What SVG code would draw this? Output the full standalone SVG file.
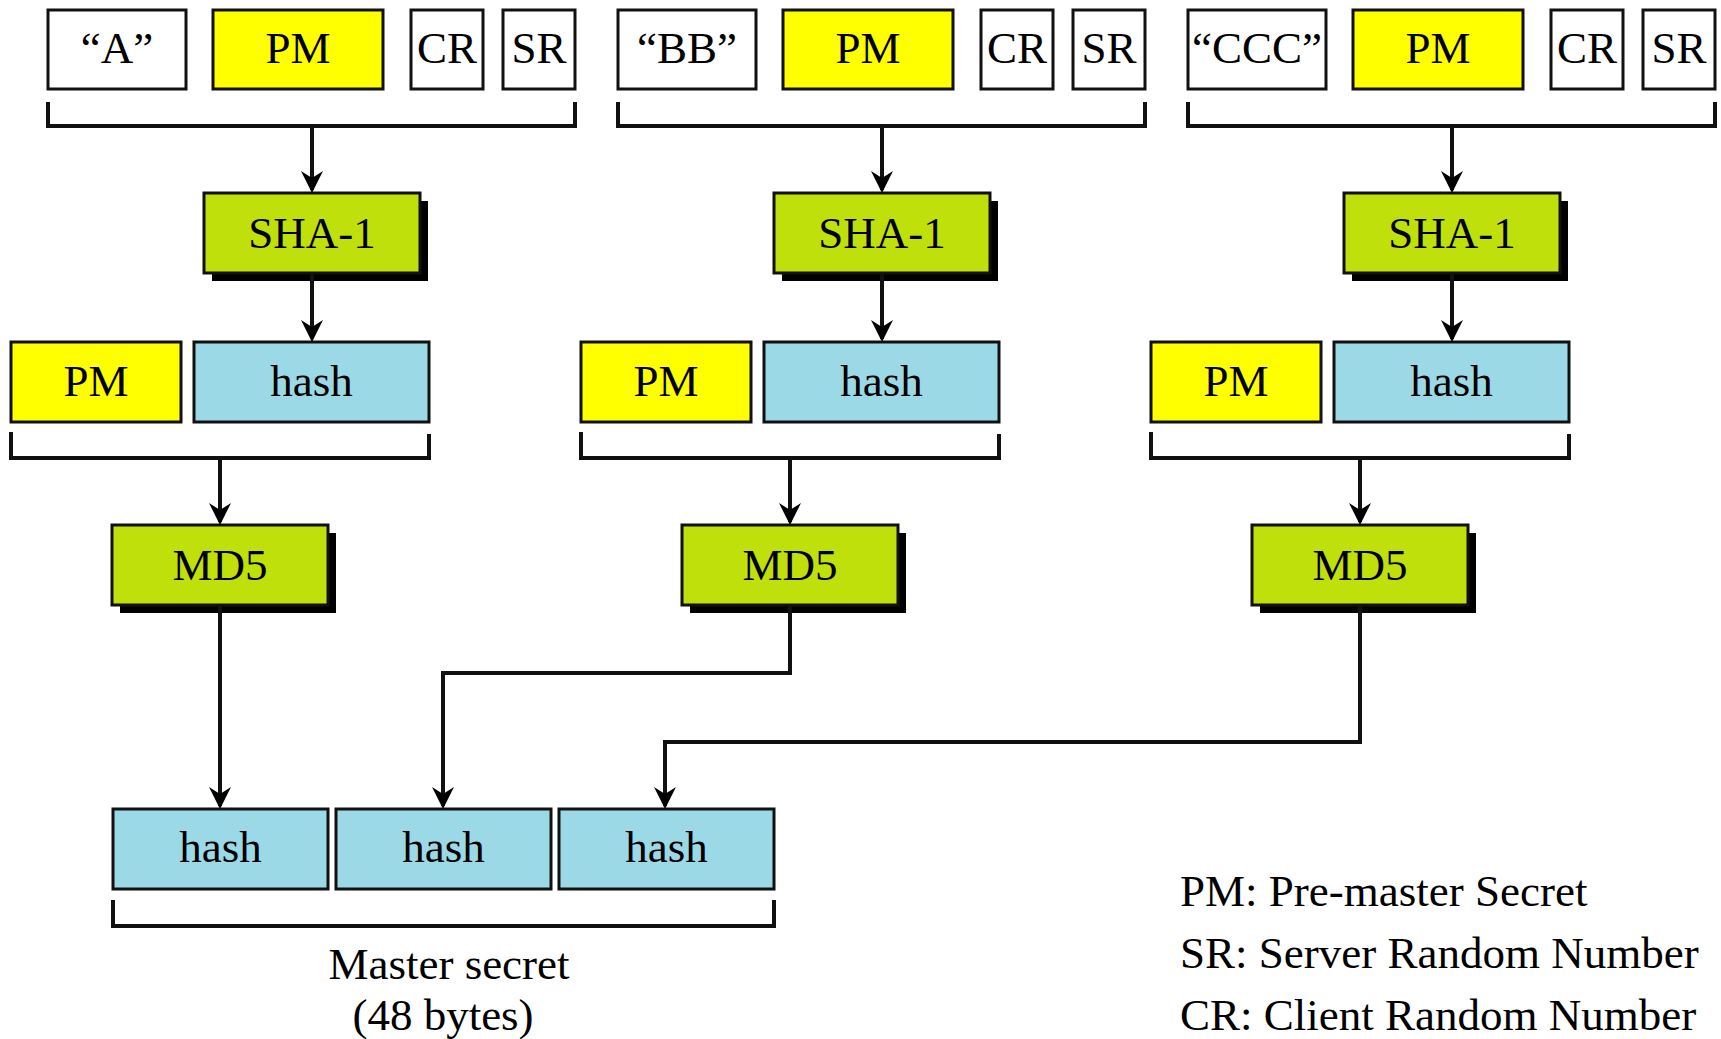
<svg xmlns="http://www.w3.org/2000/svg" width="1721" height="1039" viewBox="0 0 1721 1039">
<defs>
<style>
.t{font-family:"Liberation Serif","Times New Roman",serif;font-size:45px;fill:#000;text-anchor:middle}
.lg{font-family:"Liberation Serif","Times New Roman",serif;font-size:45px;fill:#000}
.w{fill:#fff;stroke:#111;stroke-width:3}
.y{fill:#ffff00;stroke:#111;stroke-width:3}
.g{fill:#bfe00b;stroke:#111;stroke-width:3}
.b{fill:#9cd9e7;stroke:#111;stroke-width:3}
.sh{fill:#000}
.br{fill:none;stroke:#111;stroke-width:4}
.c{fill:none;stroke:#111;stroke-width:4}
</style>
<marker id="ah" markerUnits="userSpaceOnUse" markerWidth="26" markerHeight="26" viewBox="-24 -13 26 26" refX="-3" refY="0" orient="auto">
<path d="M0,0 L-22,-11 L-15,0 L-22,11 Z" fill="#000"/>
</marker>
</defs>

<!-- Group 1 -->
<g id="g1-in-a"><rect class="w" x="48" y="10" width="138" height="79"/><text class="t" x="117" y="63">“A”</text></g>
<g id="g1-in-pm"><rect class="y" x="213" y="10" width="170" height="79"/><text class="t" x="298" y="63">PM</text></g>
<g id="g1-in-cr"><rect class="w" x="411" y="10" width="72" height="79"/><text class="t" x="447" y="63">CR</text></g>
<g id="g1-in-sr"><rect class="w" x="503" y="10" width="72" height="79"/><text class="t" x="539" y="63">SR</text></g>
<g id="g1-sha"><rect class="sh" x="212" y="201" width="216" height="80"/><rect class="g" x="204" y="193" width="216" height="80"/><text class="t" x="312" y="248">SHA-1</text></g>
<g id="g1-pm"><rect class="y" x="11" y="342" width="170" height="80"/><text class="t" x="96" y="396">PM</text></g>
<g id="g1-hash"><rect class="b" x="194" y="342" width="235" height="80"/><text class="t" x="311.5" y="396">hash</text></g>
<g id="g1-md5"><rect class="sh" x="120" y="533" width="216" height="80"/><rect class="g" x="112" y="525" width="216" height="80"/><text class="t" x="220" y="580">MD5</text></g>

<!-- Group 2 -->
<g id="g2-in-bb"><rect class="w" x="618" y="10" width="138" height="79"/><text class="t" x="687" y="63">“BB”</text></g>
<g id="g2-in-pm"><rect class="y" x="783" y="10" width="170" height="79"/><text class="t" x="868" y="63">PM</text></g>
<g id="g2-in-cr"><rect class="w" x="981" y="10" width="72" height="79"/><text class="t" x="1017" y="63">CR</text></g>
<g id="g2-in-sr"><rect class="w" x="1073" y="10" width="72" height="79"/><text class="t" x="1109" y="63">SR</text></g>
<g id="g2-sha"><rect class="sh" x="782" y="201" width="216" height="80"/><rect class="g" x="774" y="193" width="216" height="80"/><text class="t" x="882" y="248">SHA-1</text></g>
<g id="g2-pm"><rect class="y" x="581" y="342" width="170" height="80"/><text class="t" x="666" y="396">PM</text></g>
<g id="g2-hash"><rect class="b" x="764" y="342" width="235" height="80"/><text class="t" x="881.5" y="396">hash</text></g>
<g id="g2-md5"><rect class="sh" x="690" y="533" width="216" height="80"/><rect class="g" x="682" y="525" width="216" height="80"/><text class="t" x="790" y="580">MD5</text></g>

<!-- Group 3 -->
<g id="g3-in-ccc"><rect class="w" x="1188" y="10" width="138" height="79"/><text class="t" x="1257" y="63">“CCC”</text></g>
<g id="g3-in-pm"><rect class="y" x="1353" y="10" width="170" height="79"/><text class="t" x="1438" y="63">PM</text></g>
<g id="g3-in-cr"><rect class="w" x="1551" y="10" width="72" height="79"/><text class="t" x="1587" y="63">CR</text></g>
<g id="g3-in-sr"><rect class="w" x="1643" y="10" width="72" height="79"/><text class="t" x="1679" y="63">SR</text></g>
<g id="g3-sha"><rect class="sh" x="1352" y="201" width="216" height="80"/><rect class="g" x="1344" y="193" width="216" height="80"/><text class="t" x="1452" y="248">SHA-1</text></g>
<g id="g3-pm"><rect class="y" x="1151" y="342" width="170" height="80"/><text class="t" x="1236" y="396">PM</text></g>
<g id="g3-hash"><rect class="b" x="1334" y="342" width="235" height="80"/><text class="t" x="1451.5" y="396">hash</text></g>
<g id="g3-md5"><rect class="sh" x="1260" y="533" width="216" height="80"/><rect class="g" x="1252" y="525" width="216" height="80"/><text class="t" x="1360" y="580">MD5</text></g>

<!-- Master secret -->
<g id="ms-hash1"><rect class="b" x="113" y="809" width="215" height="80"/><text class="t" x="220.5" y="862">hash</text></g>
<g id="ms-hash2"><rect class="b" x="336" y="809" width="215" height="80"/><text class="t" x="443.5" y="862">hash</text></g>
<g id="ms-hash3"><rect class="b" x="559" y="809" width="215" height="80"/><text class="t" x="666.5" y="862">hash</text></g>
<g id="ms-label"><text class="t" x="449" y="979">Master secret</text><text class="t" x="443" y="1030">(48 bytes)</text></g>

<!-- Legend -->
<g id="legend">
<text class="lg" x="1180" y="906">PM: Pre-master Secret</text>
<text class="lg" x="1180" y="968">SR: Server Random Number</text>
<text class="lg" x="1180" y="1030">CR: Client Random Number</text>
</g>

<!-- Brackets and connectors -->
<g id="connectors">
<path class="br" d="M48,102 V126 H575 V102"/>
<path class="br" d="M618,102 V126 H1145 V102"/>
<path class="br" d="M1188,102 V126 H1715 V102"/>
<path class="br" d="M11,432 V458 H429 V434"/>
<path class="br" d="M581,432 V458 H999 V434"/>
<path class="br" d="M1151,432 V458 H1569 V434"/>
<path class="br" d="M113,900 V926 H774 V900"/>

<path class="c" d="M312,126 V190" marker-end="url(#ah)"/>
<path class="c" d="M882,126 V190" marker-end="url(#ah)"/>
<path class="c" d="M1452,126 V190" marker-end="url(#ah)"/>
<path class="c" d="M312,273 V339" marker-end="url(#ah)"/>
<path class="c" d="M882,273 V339" marker-end="url(#ah)"/>
<path class="c" d="M1452,273 V339" marker-end="url(#ah)"/>
<path class="c" d="M220,458 V522" marker-end="url(#ah)"/>
<path class="c" d="M790,458 V522" marker-end="url(#ah)"/>
<path class="c" d="M1360,458 V522" marker-end="url(#ah)"/>
<path class="c" d="M220,605 V806" marker-end="url(#ah)"/>
<path class="c" d="M790,605 V673 H443 V806" marker-end="url(#ah)"/>
<path class="c" d="M1360,605 V742 H665 V806" marker-end="url(#ah)"/>
</g>
</svg>
